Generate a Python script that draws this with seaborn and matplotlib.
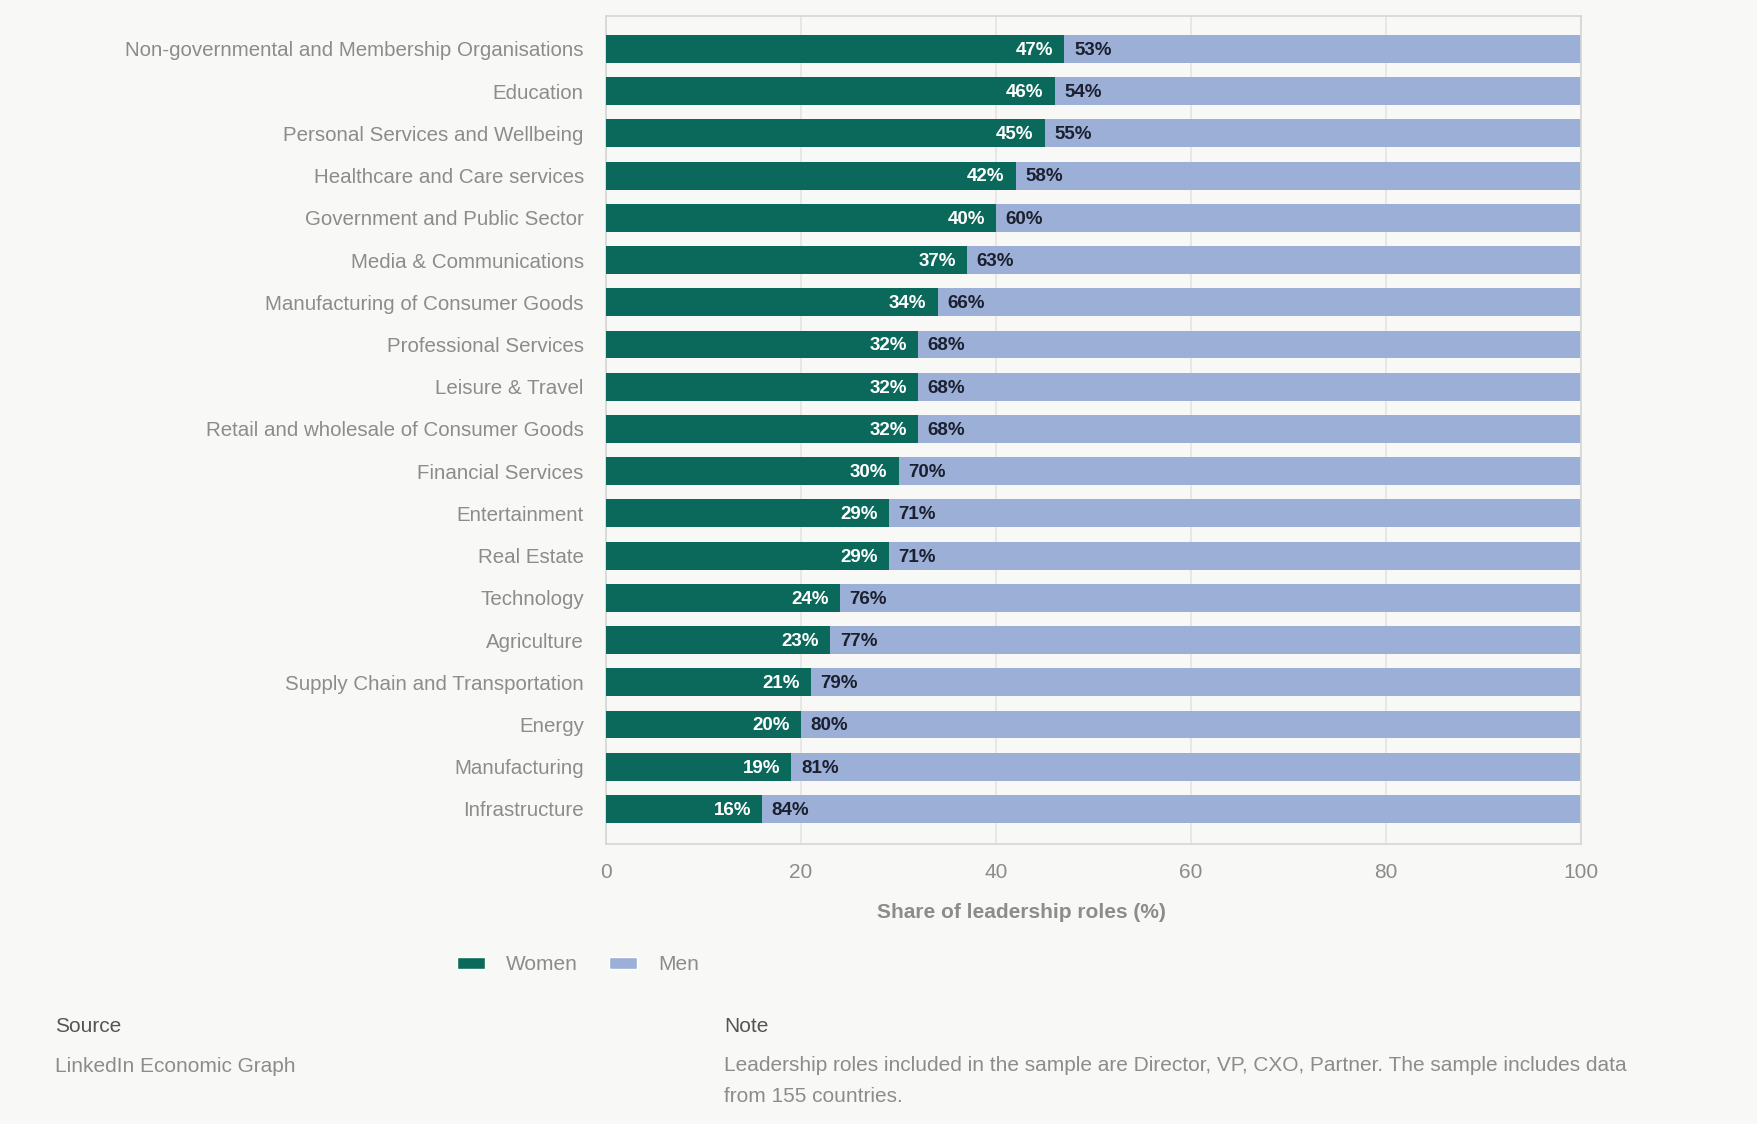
import matplotlib
matplotlib.use("Agg")
import matplotlib.pyplot as plt
import seaborn as sns
import pandas as pd
from matplotlib.patches import Patch

categories = [
    "Non-governmental and Membership Organisations",
    "Education",
    "Personal Services and Wellbeing",
    "Healthcare and Care services",
    "Government and Public Sector",
    "Media & Communications",
    "Manufacturing of Consumer Goods",
    "Professional Services",
    "Leisure & Travel",
    "Retail and wholesale of Consumer Goods",
    "Financial Services",
    "Entertainment",
    "Real Estate",
    "Technology",
    "Agriculture",
    "Supply Chain and Transportation",
    "Energy",
    "Manufacturing",
    "Infrastructure",
]
women = [47, 46, 45, 42, 40, 37, 34, 32, 32, 32, 30, 29, 29, 24, 23, 21, 20, 19, 16]
men = [53, 54, 55, 58, 60, 63, 66, 68, 68, 68, 70, 71, 71, 76, 77, 79, 80, 81, 84]
xticks = [0, 20, 40, 60, 80, 100]

GREEN = "#0b695c"
BLUE = "#9cafd6"
BG = "#f8f8f6"
GRAY = "#8c8c8c"

df = pd.DataFrame({"category": categories, "Women": women, "Men": men})
df["Total"] = df["Women"] + df["Men"]

sns.set_theme(style="white")
plt.rcParams["font.family"] = ["Liberation Sans", "DejaVu Sans"]

fig = plt.figure(figsize=(17.57, 11.24), dpi=100, facecolor=BG)
ax = fig.add_axes([606 / 1757, 1 - 844 / 1124, (1581 - 606) / 1757, (844 - 16) / 1124])
ax.set_facecolor(BG)

sns.barplot(data=df, y="category", x="Total", color=BLUE, orient="h",
            width=0.66, ax=ax, saturation=1, zorder=2, linewidth=0)
sns.barplot(data=df, y="category", x="Women", color=GREEN, orient="h",
            width=0.66, ax=ax, saturation=1, zorder=3, linewidth=0)

ax.set_xlim(0, 100)
ax.set_ylim(18.83, -0.78)
ax.set_xticks(xticks)
ax.set_xticklabels([str(t) for t in xticks])
ax.xaxis.grid(True, color="#e4e4e2", linewidth=1.2, zorder=0)
ax.set_axisbelow(True)
for s in ax.spines.values():
    s.set_color("#d6d6d4")
    s.set_linewidth(1.2)
    s.set_visible(True)

ax.tick_params(axis="y", length=0, pad=16, labelsize=14.8, labelcolor=GRAY)
ax.tick_params(axis="x", length=0, pad=14, labelsize=15, labelcolor=GRAY)
ax.set_ylabel("")
ax.set_xlabel("Share of leadership roles (%)", fontsize=15, fontweight="bold",
              color=GRAY, labelpad=16)
ax.xaxis.set_label_coords(0.426, -0.071)

for i, (w, m) in enumerate(zip(women, men)):
    ax.annotate(f"{w}%", xy=(w, i), xytext=(-8, -1), textcoords="offset points",
                ha="right", va="center", color="white", fontsize=13.5,
                fontweight="bold", zorder=5)
    ax.annotate(f"{m}%", xy=(w, i), xytext=(7, -1), textcoords="offset points",
                ha="left", va="center", color="#1b2030", fontsize=13.5,
                fontweight="bold", zorder=5)

handles = [Patch(facecolor=GREEN, label="Women"), Patch(facecolor=BLUE, label="Men")]
fig.legend(handles=handles, loc="center", bbox_to_anchor=(578 / 1757, 1 - 965 / 1124),
           ncol=2, frameon=False, fontsize=15, handlelength=1.35, handleheight=0.5,
           columnspacing=1.5, handletextpad=1.0, labelcolor=GRAY)

fig.text(55 / 1757, 1 - 1026 / 1124, "Source", fontsize=15, color="#555555",
         ha="left", va="center")
fig.text(55 / 1757, 1 - 1066 / 1124, "LinkedIn Economic Graph", fontsize=15,
         color=GRAY, ha="left", va="center")
fig.text(724 / 1757, 1 - 1026 / 1124, "Note", fontsize=15, color="#555555",
         ha="left", va="center")
fig.text(724 / 1757, 1 - 1081 / 1124,
         "Leadership roles included in the sample are Director, VP, CXO, Partner. The sample includes data\nfrom 155 countries.",
         fontsize=15, color=GRAY, ha="left", va="center", linespacing=1.75)

fig.savefig("out.png", dpi=100, facecolor=BG)
